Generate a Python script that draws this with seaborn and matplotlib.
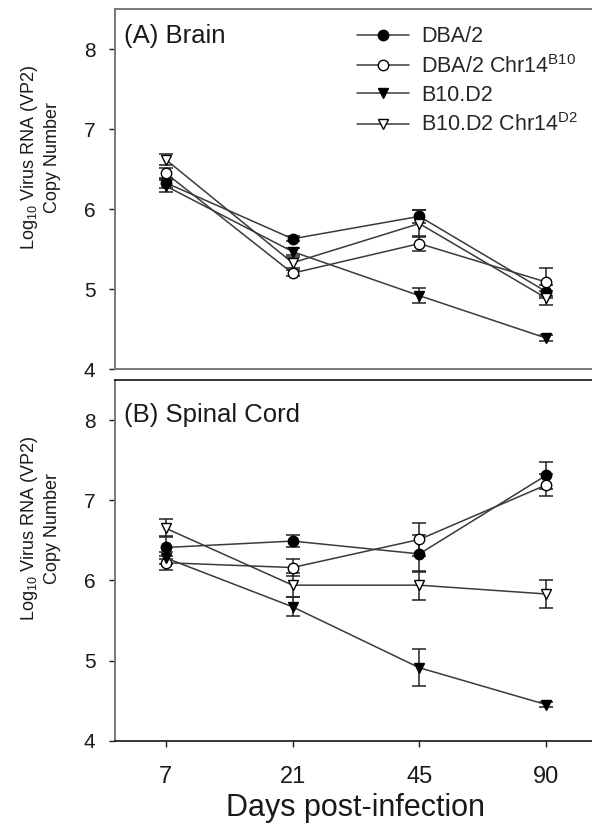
import numpy as np
import pandas as pd
import matplotlib
matplotlib.use("Agg")
import matplotlib.pyplot as plt
import seaborn as sns
from matplotlib.lines import Line2D
from matplotlib import font_manager

sns.set_theme(style="white")
plt.rcParams['font.family'] = ['Liberation Sans', 'DejaVu Sans']
plt.rcParams['mathtext.fontset'] = 'custom'
plt.rcParams['mathtext.rm'] = 'Liberation Sans'

names = {f.name for f in font_manager.fontManager.ttflist}
narrow = 'Liberation Sans Narrow' if 'Liberation Sans Narrow' in names else 'Liberation Sans'

# days post-infection (categorical x)
days = ['7', '21', '45', '90']
strains = ['DBA/2', 'DBA/2 Chr14$^{\\mathregular{B10}}$', 'B10.D2',
           'B10.D2 Chr14$^{\\mathregular{D2}}$']

# brain, log10 copy number and error
brain_dba = [6.33, 5.63, 5.91, 4.97]
brain_dba_err = [0.06, 0.03, 0.08, 0.08]
brain_dba_b10 = [6.45, 5.20, 5.57, 5.09]
brain_dba_b10_err = [0.07, 0.04, 0.09, 0.17]
brain_b10 = [6.29, 5.47, 4.92, 4.39]
brain_b10_err = [0.08, 0.04, 0.09, 0.04]
brain_b10_d2 = [6.62, 5.33, 5.82, 4.89]
brain_b10_d2_err = [0.07, 0.07, 0.17, 0.09]

# spinal cord
sc_dba = [6.41, 6.49, 6.33, 7.31]
sc_dba_err = [0.14, 0.08, 0.23, 0.17]
sc_dba_b10 = [6.22, 6.16, 6.51, 7.19]
sc_dba_b10_err = [0.09, 0.11, 0.20, 0.14]
sc_b10 = [6.28, 5.67, 4.91, 4.45]
sc_b10_err = [0.07, 0.12, 0.23, 0.03]
sc_b10_d2 = [6.65, 5.94, 5.94, 5.83]
sc_b10_d2_err = [0.11, 0.15, 0.18, 0.18]

styles = [dict(marker='o', mfc='black'),
          dict(marker='o', mfc='white'),
          dict(marker='v', mfc='black'),
          dict(marker='v', mfc='white')]

pos = np.arange(len(days))
fig = plt.figure(figsize=(5.92, 8.26), dpi=100)
ax1 = fig.add_axes([0.1943, 0.5529, 0.8139, 0.4362])
ax2 = fig.add_axes([0.1943, 0.1033, 0.8139, 0.4367])

panels = [
    (ax1, '(A) Brain', [brain_dba, brain_dba_b10, brain_b10, brain_b10_d2],
     [brain_dba_err, brain_dba_b10_err, brain_b10_err, brain_b10_d2_err]),
    (ax2, '(B) Spinal Cord', [sc_dba, sc_dba_b10, sc_b10, sc_b10_d2],
     [sc_dba_err, sc_dba_b10_err, sc_b10_err, sc_b10_d2_err]),
]

for ax, title, vals, errs in panels:
    for v, e, st in zip(vals, errs, styles):
        ax.errorbar(pos, v, yerr=e, fmt='none', ecolor='#222222',
                    elinewidth=1.1, capsize=5, capthick=1.1, zorder=2)
    for v, st in zip(vals, styles):
        df = pd.DataFrame({'x': pos, 'y': v})
        sns.lineplot(data=df, x='x', y='y', ax=ax, color='#3a3a3a', lw=1.1,
                     marker=st['marker'], ms=7.5, mfc=st['mfc'], mec='black',
                     mew=1.0, zorder=3)
    ax.set_xlim(-0.4, 3.4)
    ax.set_ylim(4, 8.5)
    ax.set_yticks([4, 5, 6, 7, 8])
    ax.tick_params(axis='y', left=True, length=4, width=1, pad=10,
                   labelsize=15, colors='#1a1a1a')
    ax.set_xlabel('')
    ax.set_ylabel('Log$_{\\mathregular{10}}$ Virus RNA (VP2)\nCopy Number',
                  fontsize=13, linespacing=1.3, color='#1a1a1a',
                  va='center', ha='center', family=[narrow, 'DejaVu Sans'])
    ax.yaxis.set_label_coords(-0.155, 0.589)
    ax.spines['right'].set_visible(False)
    for s in ['left', 'top', 'bottom']:
        ax.spines[s].set_color('#777777')
        ax.spines[s].set_linewidth(1.4)
    ax.text(0.018, 0.905 if ax is ax1 else 0.884, title, transform=ax.transAxes,
            fontsize=18.5, va='baseline', ha='left', color='#1a1a1a')

ax1.set_xticks(pos)
ax1.tick_params(axis='x', bottom=False, labelbottom=False)
ax2.set_xticks(pos)
ax2.set_xticklabels(days)
ax2.tick_params(axis='x', bottom=True, length=4, width=1, pad=14,
                labelsize=17, colors='#1a1a1a')
ax2.spines['top'].set_color('black')
ax2.spines['bottom'].set_color('black')
ax2.spines['top'].set_linewidth(1.1)
ax2.spines['bottom'].set_linewidth(1.1)
ax2.set_xlabel('Days post-infection', fontsize=22, color='#1a1a1a', labelpad=4)

handles = [Line2D([], [], color='#3a3a3a', lw=1.1, marker=st['marker'], ms=7.5,
                  mfc=st['mfc'], mec='black', mew=1.0) for st in styles]
ax1.legend(handles, strains, loc='upper left', bbox_to_anchor=(0.502, 0.952),
           frameon=False, fontsize=15.5, handlelength=2.4, handletextpad=0.6,
           labelspacing=0.34, borderpad=0, borderaxespad=0)

fig.savefig('out.png', dpi=100)
